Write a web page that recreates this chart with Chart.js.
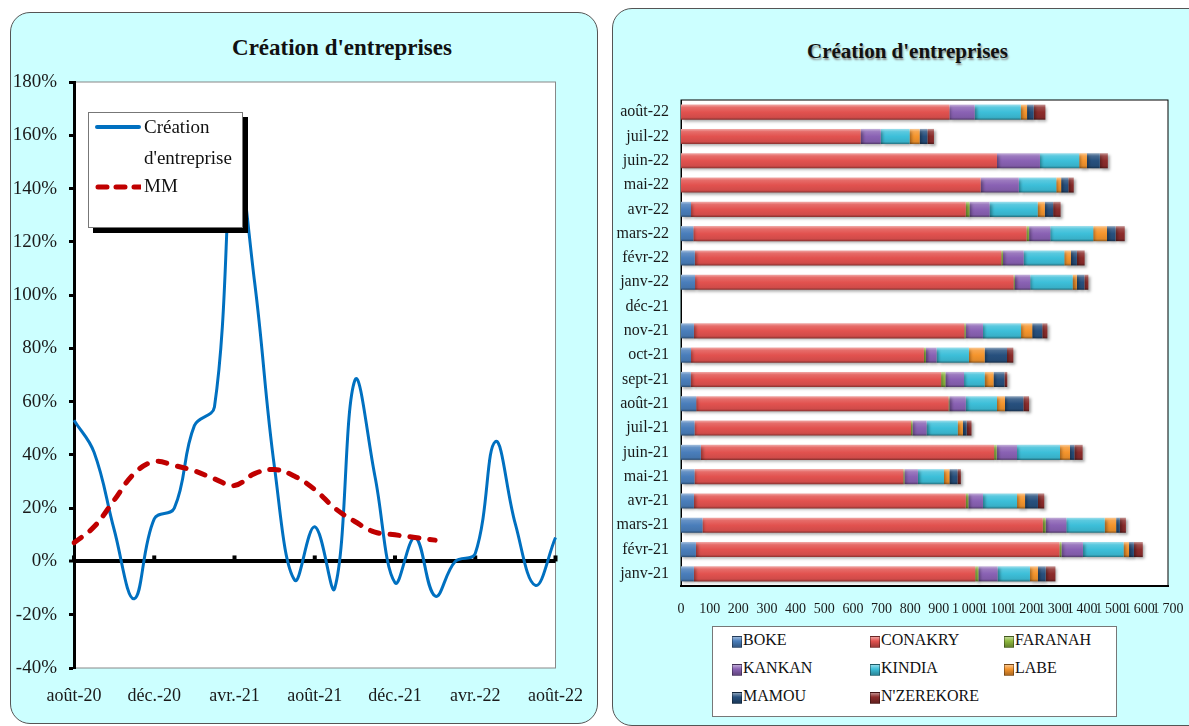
<!DOCTYPE html>
<html lang="fr">
<head>
<meta charset="UTF-8" />
<title>Création d'entreprises</title>
<style>
  body {
    margin: 0;
    width: 1189px;
    height: 726px;
    overflow: hidden;
    background: #ffffff;
    font-family: 'Liberation Serif', 'Times New Roman', serif;
    color: #111;
    position: relative;
  }
  .panel {
    position: absolute;
    background: #ccffff;
    border: 1px solid #555;
    border-radius: 20px;
  }
  .titre {
    position: absolute;
    font-weight: bold;
    text-align: center;
    white-space: nowrap;
  }
  canvas { position: absolute; top: 0; }
  .legende {
    position: absolute;
    background: #fff;
    border: 1px solid #777;
  }
  .legende span, .legende div { position: absolute; white-space: nowrap; }
  .carre {
    width: 8px; height: 10px;
    border: 1px solid rgba(0,0,0,0.35);
  }
</style>
</head>
<body>
  <div class="panel" style="left:10px; top:12px; width:586px; height:710px;"></div>
  <div class="panel" style="left:612px; top:8px; width:600px; height:716px;"></div>

  <div class="titre" style="left:230px; top:35px; width:224px; font-size:23px;">Création d'entreprises</div>
  <div class="titre" style="left:807px; top:39px; width:200px; font-size:21px; text-shadow:1px 2px 2px #888;">Création d'entreprises</div>

  <canvas id="ligne" width="600" height="726" style="left:0;"></canvas>
  <canvas id="barres" width="610" height="726" style="left:600px;"></canvas>

  <!-- légende du graphique de gauche -->
  <div class="legende" style="left:88px; top:112px; width:153px; height:114px; box-shadow:5px 5px 0 #000; font-size:19px;">
    <svg style="position:absolute; left:6px; top:10px;" width="46" height="8">
      <line x1="2" y1="4" x2="44" y2="4" stroke="#0070c0" stroke-width="4" stroke-linecap="round" />
    </svg>
    <svg style="position:absolute; left:6px; top:69px;" width="46" height="10">
      <line x1="3" y1="5" x2="46" y2="5" stroke="#c00000" stroke-width="5" stroke-linecap="round" stroke-dasharray="9 9" />
    </svg>
    <div style="left:55px; top:3px;">Création</div>
    <div style="left:55px; top:34px;">d'entreprise</div>
    <div style="left:55px; top:62px;">MM</div>
  </div>

  <!-- légende du graphique de droite -->
  <div class="legende" id="leg2" style="left:712px; top:626px; width:403px; height:89px; font-size:16px;"></div>

  <script src="https://cdn.jsdelivr.net/npm/chart.js@4"></script>
  <script>
    // --- données : taux de création d'entreprises (%) ---
    const moisLigne = ['août-20','sept.-20','oct.-20','nov.-20','déc.-20','janv.-21','févr.-21','mars-21',
      'avr.-21','mai-21','juin-21','juil.-21','août-21','sept.-21','oct.-21','nov.-21','déc.-21',
      'janv.-22','févr.-22','mars-22','avr.-22','mai-22','juin-22','juil.-22','août-22'];
    const creation = [53, 41, 12, -14, 16, 20, 51, 58, 155, 105, 35, -7, 13, -10, 68, 32, -8, 9, -13, 0, 3, 45, 14, -9, 9];
    const moyenneMobile = [7, 13, 23, 33, 37.5, 36, 34, 31, 28.5, 33, 34.5, 32, 27, 20, 15, 11, 10, 9, 8,
      null, null, null, null, null, null];

    // --- données : créations par région ---
    const moisBarres = ['janv-21','févr-21','mars-21','avr-21','mai-21','juin-21','juil-21','août-21',
      'sept-21','oct-21','nov-21','déc-21','janv-22','févr-22','mars-22','avr-22','mai-22','juin-22',
      'juil-22','août-22'];
    const regions = ['BOKE', 'CONAKRY', 'FARANAH', 'KANKAN', 'KINDIA', 'LABE', 'MAMOU', "N'ZEREKORE"];
    const boke      = [45, 52, 75, 45, 47, 69, 47, 53, 34, 35, 45, 0, 49, 48, 43, 35, 0, 0, 0, 0];
    const conakry   = [982, 1269, 1188, 949, 729, 1024, 756, 881, 874, 813, 944, 0, 1112, 1070, 1163, 959, 1046, 1103, 627, 937];
    const faranah   = [11, 7, 10, 9, 4, 9, 5, 3, 15, 7, 5, 0, 4, 6, 9, 13, 0, 0, 0, 0];
    const kankan    = [67, 75, 72, 51, 47, 71, 49, 57, 65, 37, 60, 0, 54, 72, 74, 70, 133, 150, 70, 88];
    const kindia    = [113, 142, 134, 119, 91, 150, 109, 109, 72, 113, 133, 0, 148, 142, 150, 168, 131, 137, 101, 161];
    const labe      = [28, 19, 40, 28, 19, 35, 18, 28, 31, 55, 39, 0, 15, 23, 48, 25, 17, 27, 35, 22];
    const mamou     = [27, 17, 13, 45, 28, 15, 13, 64, 38, 78, 35, 0, 26, 21, 30, 29, 25, 45, 27, 23];
    const nzerekore = [34, 31, 21, 22, 12, 29, 17, 20, 10, 22, 18, 0, 14, 27, 32, 26, 19, 28, 23, 41];
    const couleurs = ['#4a7ebb', '#e2524f', '#8fb93f', '#8a62b4', '#3dbfd9', '#f5952d', '#27507e', '#8c2c2b'];

    const police = "'Liberation Serif', 'Times New Roman', serif";

    // mélange une couleur avec du blanc (t>0) ou du noir (t<0)
    function nuance(hex, t) {
      const n = parseInt(hex.slice(1), 16);
      let r = n >> 16, g = (n >> 8) & 255, b = n & 255;
      const cible = t > 0 ? 255 : 0, k = Math.abs(t);
      r = Math.round(r + (cible - r) * k);
      g = Math.round(g + (cible - g) * k);
      b = Math.round(b + (cible - b) * k);
      return `rgb(${r},${g},${b})`;
    }

    // dégradé vertical pour imiter le relief des barres Excel
    const relief = (base) => (ctx) => {
      const axeY = ctx.chart.scales.y;
      if (!axeY || ctx.type !== 'data') return base;
      const py = axeY.getPixelForValue(ctx.dataIndex);
      if (!isFinite(py)) return base;
      const g = ctx.chart.ctx.createLinearGradient(0, py - 7.5, 0, py + 7.5);
      g.addColorStop(0, nuance(base, 0.5));
      g.addColorStop(0.18, nuance(base, 0.15));
      g.addColorStop(0.5, base);
      g.addColorStop(0.85, nuance(base, -0.08));
      g.addColorStop(1, nuance(base, -0.4));
      return g;
    };

    // fond blanc + cadre de la zone de tracé
    const fondZone = (bord, epaisseur) => ({
      id: 'fondZone',
      beforeDraw(chart) {
        const { ctx, chartArea: a } = chart;
        ctx.save();
        ctx.fillStyle = '#fff';
        ctx.fillRect(a.left, a.top, a.width, a.height);
        ctx.strokeStyle = bord;
        ctx.lineWidth = epaisseur;
        ctx.strokeRect(a.left, a.top, a.width, a.height);
        ctx.restore();
      }
    });

    // petites graduations sur l'axe du 0 %
    const graduationsZero = {
      id: 'graduationsZero',
      beforeDatasetsDraw(chart) {
        const { ctx, scales } = chart;
        const y0 = scales.y.getPixelForValue(0);
        ctx.save();
        ctx.fillStyle = '#000';
        for (let i = 0; i < moisLigne.length; i += 4) {
          const x = scales.x.getPixelForValue(i);
          ctx.fillRect(x - 2, y0 - 6, 4, 6);
        }
        ctx.restore();
      }
    };

    new Chart(document.getElementById('ligne'), {
      type: 'line',
      data: {
        labels: moisLigne,
        datasets: [
          {
            label: "Création d'entreprise",
            data: creation,
            borderColor: '#0070c0',
            borderWidth: 3,
            tension: 0.4,
            pointRadius: 0,
            fill: false,
            order: 2
          },
          {
            label: 'MM',
            data: moyenneMobile,
            borderColor: '#c00000',
            borderWidth: 5,
            borderDash: [9, 11],
            borderCapStyle: 'round',
            tension: 0.4,
            pointRadius: 0,
            fill: false,
            order: 1
          }
        ]
      },
      options: {
        responsive: false,
        animation: false,
        events: [],
        layout: { padding: { top: 82, right: 40, left: 0, bottom: 0 } },
        plugins: { legend: { display: false }, tooltip: { enabled: false } },
        scales: {
          x: {
            offset: false,
            grid: { display: false, drawTicks: false },
            border: { display: false },
            ticks: {
              autoSkip: false,
              maxRotation: 0,
              minRotation: 0,
              padding: 17,
              color: '#1a1a1a',
              font: { family: police, size: 18 },
              callback: function (v, i) { return i % 4 === 0 ? this.getLabelForValue(v) : ''; }
            },
            afterFit: (s) => { s.height = 58; }
          },
          y: {
            min: -40,
            max: 180,
            border: { display: true, color: '#000', width: 3 },
            grid: {
              color: (c) => (c.tick && c.tick.value === 0 ? '#000' : 'rgba(0,0,0,0)'),
              lineWidth: (c) => (c.tick && c.tick.value === 0 ? 4 : 1),
              tickColor: '#000',
              tickWidth: 3,
              tickLength: 5
            },
            ticks: {
              stepSize: 20,
              padding: 12,
              color: '#1a1a1a',
              font: { family: police, size: 19 },
              callback: (v) => v + '%'
            },
            afterFit: (s) => { s.width = 74; }
          }
        }
      },
      plugins: [fondZone('#888', 1), graduationsZero]
    });

    // ombre portée des barres
    const ombre = {
      id: 'ombre',
      beforeDatasetsDraw(chart) {
        const c = chart.ctx;
        c.save();
        c.shadowColor = 'rgba(0,0,0,0.35)';
        c.shadowOffsetX = 2;
        c.shadowOffsetY = 2;
        c.shadowBlur = 3;
      },
      afterDatasetsDraw(chart) { chart.ctx.restore(); }
    };

    const series = [boke, conakry, faranah, kankan, kindia, labe, mamou, nzerekore];
    new Chart(document.getElementById('barres'), {
      type: 'bar',
      data: {
        labels: moisBarres,
        datasets: regions.map((nom, i) => ({
          label: nom,
          data: series[i],
          backgroundColor: relief(couleurs[i]),
          borderWidth: 0,
          barPercentage: 1,
          categoryPercentage: 0.62
        }))
      },
      options: {
        indexAxis: 'y',
        responsive: false,
        animation: false,
        events: [],
        layout: { padding: { top: 100, right: 42, left: 0, bottom: 0 } },
        plugins: { legend: { display: false }, tooltip: { enabled: false } },
        scales: {
          x: {
            stacked: true,
            min: 0,
            max: 1700,
            grid: { display: false, drawTicks: false },
            border: { display: true, color: '#000', width: 2 },
            ticks: {
              stepSize: 100,
              autoSkip: false,
              maxRotation: 0,
              minRotation: 0,
              padding: 15,
              color: '#1a1a1a',
              font: { family: police, size: 14 },
              callback: (v) => v.toLocaleString('fr-FR')
            },
            afterFit: (s) => { s.height = 140; }
          },
          y: {
            stacked: true,
            reverse: true,
            grid: { display: false, drawTicks: false },
            border: { display: true, color: '#000', width: 1 },
            ticks: {
              autoSkip: false,
              padding: 12,
              color: '#1a1a1a',
              font: { family: police, size: 16 }
            },
            afterFit: (s) => { s.width = 81; }
          }
        }
      },
      plugins: [fondZone('#000', 1), ombre]
    });

    // légende HTML du graphique en barres (3 colonnes)
    const leg2 = document.getElementById('leg2');
    const colonnes = [19, 157, 291];
    regions.forEach((nom, i) => {
      const x = colonnes[i % 3], y = 14 + Math.floor(i / 3) * 28;
      const carre = document.createElement('span');
      carre.className = 'carre';
      carre.style.left = x + 'px';
      carre.style.top = (y - 5) + 'px';
      carre.style.background = `linear-gradient(${nuance(couleurs[i], 0.45)}, ${couleurs[i]} 40%, ${nuance(couleurs[i], -0.3)})`;
      leg2.appendChild(carre);
      const txt = document.createElement('span');
      txt.textContent = nom;
      txt.style.left = (x + 11) + 'px';
      txt.style.top = (y - 10) + 'px';
      leg2.appendChild(txt);
    });
  </script>
</body>
</html>
